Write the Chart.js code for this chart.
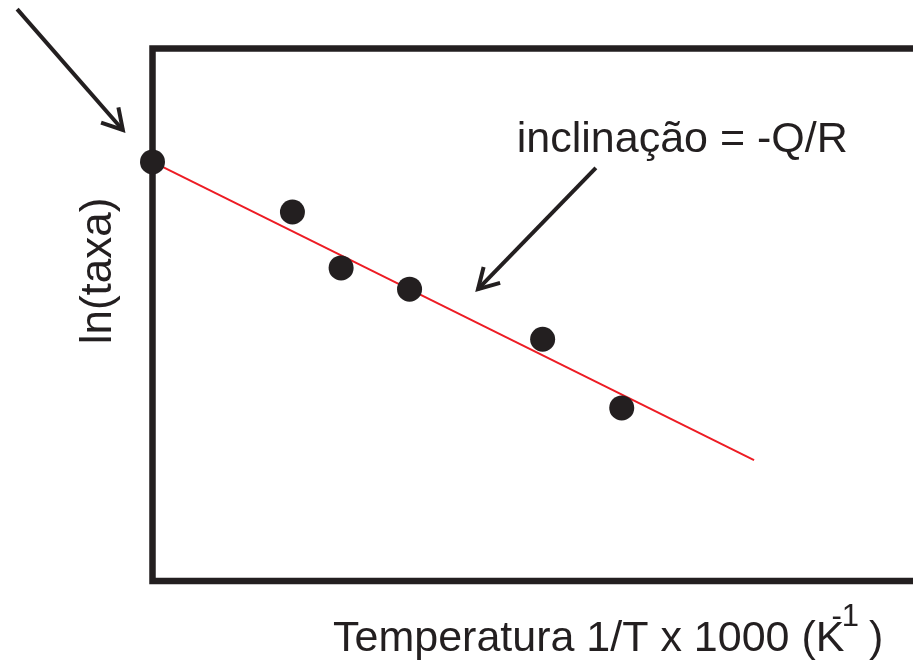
<!DOCTYPE html>
<html>
<head>
<meta charset="utf-8">
<script src="https://cdn.jsdelivr.net/npm/chart.js@4.4.0/dist/chart.umd.min.js"></script>
<style>
  html, body { margin: 0; padding: 0; background: #fff; }
  #wrap { width: 913px; height: 661px; position: relative; }
</style>
</head>
<body>
<div id="wrap"><canvas id="grafico"></canvas></div>
<script>
// pontos medidos (unidades arbitrárias, o gráfico não tem marcas nos eixos)
const invTemp = [0.0, 1.84, 2.48, 3.38, 5.13, 6.17];
const lnTaxa = [7.87, 6.93, 5.88, 5.48, 4.54, 3.25];

// reta ajustada
const retaX = [0.0, 7.91];
const retaY = [7.87, 2.27];

// textos
const tituloX = "Temperatura 1/T x 1000 (K";
const tituloXSup = "-1";
const tituloY = "ln(taxa)";
const rotuloInclinacao = "inclinação = -Q/R";

const PRETO = "#231f20";
const VERMELHO = "#ed1c24";
const FONTE = '"Liberation Sans", Arial, Helvetica, sans-serif';

// setas em unidades dos dados: [x0, y0, x1 (ponta), y1 (ponta)]
const setaIntercepto = [-1.78, 10.74, -0.39, 8.47];
const setaInclinacao = [5.83, 7.76, 4.28, 5.48];

function seta(ctx, x0, y0, x1, y1) {
  const ang = Math.atan2(y1 - y0, x1 - x0);
  const L = 23, abre = Math.PI / 6;
  ctx.beginPath();
  ctx.moveTo(x0, y0);
  ctx.lineTo(x1, y1);
  ctx.stroke();
  ctx.beginPath();
  ctx.moveTo(x1 - L * Math.cos(ang - abre), y1 - L * Math.sin(ang - abre));
  ctx.lineTo(x1, y1);
  ctx.lineTo(x1 - L * Math.cos(ang + abre), y1 - L * Math.sin(ang + abre));
  ctx.stroke();
}

// moldura: só esquerda, topo e base (a direita sai da imagem)
const moldura = {
  id: 'moldura',
  beforeDatasetsDraw(chart) {
    const { ctx, chartArea: a, width } = chart;
    ctx.save();
    ctx.strokeStyle = PRETO;
    ctx.lineWidth = 6.5;
    ctx.lineJoin = 'miter';
    ctx.beginPath();
    ctx.moveTo(width + 10, a.top);
    ctx.lineTo(a.left, a.top);
    ctx.lineTo(a.left, a.bottom);
    ctx.lineTo(width + 10, a.bottom);
    ctx.stroke();
    ctx.restore();
  }
};

const anotacoes = {
  id: 'anotacoes',
  afterDraw(chart) {
    const { ctx, chartArea: a } = chart;
    const sx = chart.scales.x, sy = chart.scales.y;
    ctx.save();
    ctx.strokeStyle = PRETO;
    ctx.fillStyle = PRETO;
    ctx.lineWidth = 4;
    ctx.lineJoin = 'miter';

    [setaIntercepto, setaInclinacao].forEach(s => {
      seta(ctx, sx.getPixelForValue(s[0]), sy.getPixelForValue(s[1]),
                sx.getPixelForValue(s[2]), sy.getPixelForValue(s[3]));
    });

    // rótulo da inclinação
    ctx.font = '43px ' + FONTE;
    ctx.textAlign = 'left';
    ctx.textBaseline = 'alphabetic';
    ctx.fillText(rotuloInclinacao, sx.getPixelForValue(4.79), sy.getPixelForValue(8.06));

    // título do eixo x com expoente
    const bx = 333, by = a.bottom + 70;
    ctx.fillText(tituloX, bx, by);
    const wK = ctx.measureText(tituloX).width;
    ctx.font = '31px ' + FONTE;
    const xSup = bx + wK - 13;
    ctx.fillText(tituloXSup, xSup, by - 25);
    const wSup = ctx.measureText(tituloXSup).width;
    ctx.font = '43px ' + FONTE;
    ctx.fillText(')', xSup + wSup + 10, by);

    // título do eixo y
    ctx.translate(111, 271);
    ctx.rotate(-Math.PI / 2);
    ctx.textAlign = 'center';
    ctx.font = '44px ' + FONTE;
    ctx.fillText(tituloY, 0, 0);
    ctx.restore();
  }
};

new Chart(document.getElementById('grafico'), {
  type: 'scatter',
  data: {
    datasets: [
      {
        data: invTemp.map((x, i) => ({ x: x, y: lnTaxa[i] })),
        backgroundColor: PRETO,
        borderWidth: 0,
        pointRadius: 12.5,
        pointHoverRadius: 12.5,
        clip: false,
        order: 0
      },
      {
        type: 'line',
        data: retaX.map((x, i) => ({ x: x, y: retaY[i] })),
        borderColor: VERMELHO,
        borderWidth: 2,
        pointRadius: 0,
        fill: false,
        clip: false,
        order: 1
      }
    ]
  },
  options: {
    responsive: true,
    maintainAspectRatio: false,
    animation: false,
    layout: { autoPadding: false, padding: { left: 152.5, top: 48.5, right: 0, bottom: 80 } },
    plugins: {
      legend: { display: false },
      tooltip: { enabled: false }
    },
    scales: {
      x: { type: 'linear', min: 0, max: 10, display: false },
      y: { type: 'linear', min: 0, max: 10, display: false }
    }
  },
  plugins: [moldura, anotacoes]
});
</script>
</body>
</html>
